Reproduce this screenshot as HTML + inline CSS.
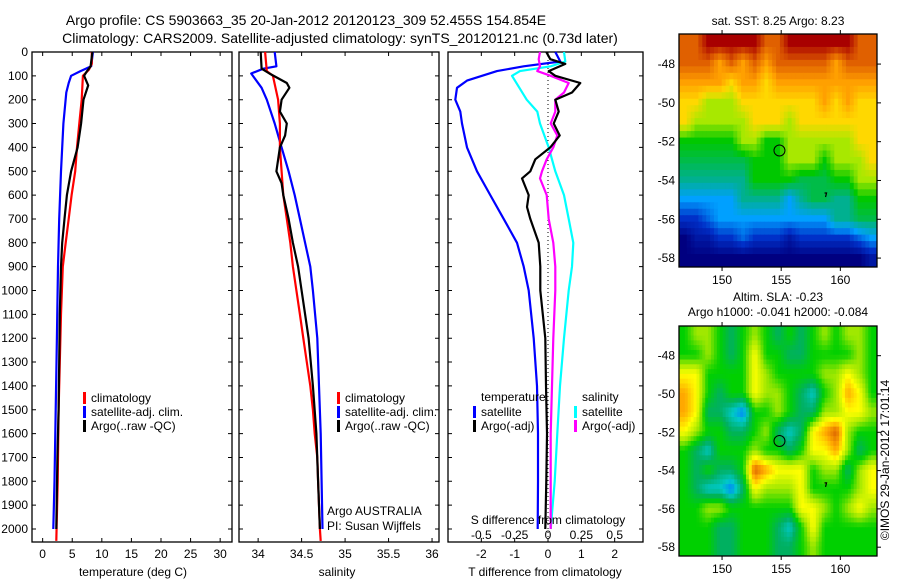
<!DOCTYPE html>
<html><head><meta charset="utf-8"><style>
html,body{margin:0;padding:0;background:#fff;}
svg{display:block;font-family:"Liberation Sans",sans-serif;}
</style></head><body>
<svg id="fig" width="900" height="580" viewBox="0 0 900 580">
<text x="306" y="25" font-size="14" text-anchor="middle">Argo profile: CS 5903663_35 20-Jan-2012 20120123_309 52.455S 154.854E</text>
<text x="340" y="43" font-size="14" text-anchor="middle">Climatology: CARS2009. Satellite-adjusted climatology: synTS_20120121.nc (0.73d later)</text>
<g id="g1"></g>
<g id="g2"></g>
<g id="g3"></g>
<g id="m1"></g>
<g id="m2"></g>
<text transform="translate(889,460) rotate(-90)" font-size="12" text-anchor="middle">©IMOS 29-Jan-2012 17:01:14</text>
</svg>
<script>
// ---- data ----
const depthTicks=[0,100,200,300,400,500,600,700,800,900,1000,1100,1200,1300,1400,1500,1600,1700,1800,1900,2000];
const tTicks=[0,5,10,15,20,25,30];
const sTicks=[34,34.5,35,35.5,36];
const dTTicks=[-2,-1,0,1,2];
const dSTicks=[-0.5,-0.25,0,0.25,0.5];
const dSTickLabels=["-0.5","-0.25","0","0.25","0.5"];
const tClimD=[0,50,75,100,200,300,400,500,600,700,800,900,1100,1300,1500,1800,2050];
const tClimV=[8.3,8.3,7.8,6.8,6.6,6.2,5.8,5.5,4.9,4.4,3.9,3.4,3.1,2.9,2.7,2.55,2.3];
const tSatD=[0,60,80,100,130,170,300,500,700,900,1200,1500,1800,2000];
const tSatV=[8.5,8.2,6.4,4.8,4.4,4.0,3.5,3.1,2.8,2.6,2.4,2.2,2.0,1.8];
const tArgoD=[0,60,80,100,140,200,300,400,500,600,700,800,900,1100,1300,1500,1700,2000];
const tArgoV=[8.4,8.1,7.5,7.0,7.7,6.9,6.5,5.9,4.8,4.1,3.7,3.3,3.1,2.9,2.8,2.7,2.5,2.3];
const sClimD=[0,80,100,200,300,400,500,600,700,800,900,1000,1100,1200,1300,1400,1500,1600,1700,1800,2000,2050];
const sClimV=[34.08,34.1,34.17,34.23,34.25,34.25,34.27,34.29,34.33,34.37,34.4,34.44,34.48,34.52,34.56,34.6,34.63,34.65,34.68,34.69,34.71,34.72];
const sSatD=[0,60,70,90,150,200,300,400,500,600,700,800,900,1000,1200,1400,1600,1800,2000];
const sSatV=[34.19,34.21,34.06,33.92,34.04,34.1,34.19,34.27,34.35,34.42,34.48,34.54,34.6,34.63,34.68,34.7,34.72,34.73,34.74];
const sArgoD=[0,70,90,130,150,200,250,300,350,400,500,550,600,700,800,900,1000,1100,1200,1400,1600,1800,2000];
const sArgoV=[34.03,34.04,34.13,34.33,34.36,34.27,34.25,34.33,34.31,34.25,34.21,34.27,34.29,34.35,34.4,34.46,34.5,34.54,34.58,34.63,34.67,34.69,34.71];
const dTSatD=[0,40,60,80,120,150,200,250,300,400,500,600,700,800,900,1000,1200,1400,1600,1800,2000];
const dTSatV=[0.22,0.37,-0.73,-1.53,-2.43,-2.73,-2.78,-2.63,-2.58,-2.43,-2.13,-1.73,-1.33,-0.93,-0.73,-0.58,-0.43,-0.33,-0.3,-0.3,-0.31];
const dTArgoD=[0,30,50,80,100,130,170,200,250,300,350,400,450,500,530,600,650,700,800,900,1000,1200,1400,1600,1800,2000];
const dTArgoV=[-0.05,0.07,0.52,0.02,0.22,0.97,0.72,0.22,0.32,0.17,0.35,0.07,-0.38,-0.53,-0.78,-0.58,-0.63,-0.53,-0.28,-0.23,-0.23,-0.08,-0.06,-0.03,-0.05,-0.08];
const dSSatD=[0,40,60,80,100,200,250,300,400,500,600,700,800,900,1000,1200,1400,1600,1800,2000];
const dSSatV=[0.12,0.13,0.02,-0.21,-0.27,-0.16,-0.08,-0.06,0.005,0.055,0.12,0.155,0.19,0.18,0.155,0.12,0.09,0.07,0.05,0.02];
const dSArgoD=[0,30,60,80,100,130,170,200,250,300,350,400,450,500,530,600,700,800,900,1000,1200,1400,1600,1800,2000];
const dSArgoV=[-0.06,-0.07,-0.06,-0.08,0.02,0.155,0.12,0.055,0.055,0.02,0.07,0.04,-0.01,-0.045,-0.06,-0.01,0.005,0.04,0.055,0.055,0.04,0.03,0.02,0.02,0.02];
const lonTicks=[150,155,160];
const latTicks=[-48,-50,-52,-54,-56,-58];
const sstGrid=[
[8,8,9,9,9,9,9,8,8,9,9,9,9,9,9,8,8],
[8,8,8,7,8,7,8,7,8,8,8,8,8,7,8,8,8],
[7,7,7,7,6,7,7,6,7,7,7,7,7,7,7,7,7],
[6,6,5,5,5,6,6,6,6,6,6,6,7,6,7,6,6],
[6,5,5,5,5,5,6,6,6,5,6,6,6,6,6,6,6],
[4,4,4,4,4,5,5,4,4,5,5,5,5,5,5,6,6],
[3.5,3.5,3.5,3.5,3.5,3.5,4,4,4,5,5,5,4,5,5,5,6],
[3,3,3,3,3,3,4,4,4,4,3.5,3.5,3.5,4,4,5,5],
[2,2,2,2,2,3,3,3,3,2,3,3.5,3.5,3,3,4,4],
[1,1,1.5,2,2,2,2,2,2,2,2,2,2,3,3,3.5,3.5],
[0,0.5,0.5,1,1,1.5,1,1,1,0.5,1,1,1,1,1,1.5,2],
[0,0,0,0,0,0,0,0,0,0,0,0,0,0,0,0,0.5]];
const slaGrid=[
[3,4,4,3,2,3,4,3,2,3,2,3,4,3,4,4,3],
[3,3,4,3,2,3,5,3,3,2,2,3,3,3,3,4,3],
[5,5,3,3,3,3,5,4,3,3,3,3,4,4,5,4,3],
[6,5,3,2,3,3,5,4,4,3,2,1,3,4,6,5,3],
[6,5,2,2,1,0,3,3,4,3,2,2,4,4,5,5,4],
[5,4,3,3,2,2,3,4,2,1,2,5,6,7,4,3,3],
[3,2,1,3,3,3,4,3,3,2,3,5,5,6,4,2,3],
[3,2,3,2,2,3,7,6,5,5,5,3,4,4,2,4,5],
[3,2,1,1,0,2,5,4,4,4,5,3,3,3,3,4,5],
[3,3,4,4,3,3,3,3,3,3,5,5,4,3,4,5,4],
[3,3,3,2,2,3,3,3,2,1,3,5,3,3,3,3,3],
[3,3,3,2,2,3,3,3,2,2,3,4,3,3,3,3,3]];
const argoLon=154.854, argoLat=-52.455;

// ---- helpers ----
const NS="http://www.w3.org/2000/svg";
function el(parent,tag,attrs,txt){const e=document.createElementNS(NS,tag);for(const k in attrs)e.setAttribute(k,attrs[k]);if(txt!==undefined)e.textContent=txt;parent.appendChild(e);return e;}
const Y0=52, YS=0.2385, PB=542, PT=52;
const yD=d=>Y0+d*YS;
function panel(g,x0,x1,dmin,dmax){
  const sx=v=>x0+(v-dmin)/(dmax-dmin)*(x1-x0);
  const r=el(g,'rect',{x:x0,y:PT,width:x1-x0,height:PB-PT,fill:'none',stroke:'#000','stroke-width':1.3});
  
  
  depthTicks.forEach(d=>{
    const t=el(g,'path',{d:`M${x0} ${yD(d)}h4M${x1} ${yD(d)}h-4`,stroke:'#000','stroke-width':1});
    
    
  });
  return sx;
}
function xticks(g,sx,ticks,labels,ylab){
  ticks.forEach((v,i)=>{
    const t=el(g,'path',{d:`M${sx(v)} ${PT}v4M${sx(v)} ${PB}v-4`,stroke:'#000','stroke-width':1});
    
    
    if(labels){const l=el(g,'text',{x:sx(v),y:ylab,'font-size':12,'text-anchor':'middle'},labels[i]);
    
    }
  });
}
function line(g,sx,D,V,color,name,w){
  const p=el(g,'polyline',{points:D.map((d,i)=>sx(V[i]).toFixed(1)+','+yD(d).toFixed(1)).join(' '),fill:'none',stroke:color,'stroke-width':w||2.2,'stroke-linejoin':'round'});
  
  
}
function legend(g,x,y,color,label,name){
  const m=el(g,'rect',{x:x,y:y-6,width:3,height:12,fill:color});
  
  
  const t=el(g,'text',{x:x+8,y:y+4,'font-size':12},label);
  
  
}

// ---- panel 1 ----
const g1=document.getElementById('g1');
const sx1=panel(g1,32,232,-1.8,32);
depthTicks.forEach(d=>{const l=el(g1,'text',{x:28,y:yD(d)+4,'font-size':12,'text-anchor':'end'},String(d));

});
xticks(g1,sx1,tTicks,tTicks.map(String),558);
line(g1,sx1,tSatD,tSatV,'#0000ff','temp-satellite-line');
line(g1,sx1,tClimD,tClimV,'#ff0000','temp-climatology-line');
line(g1,sx1,tArgoD,tArgoV,'#000','temp-argo-line');
legend(g1,83,398,'#ff0000','climatology','legend-climatology');
legend(g1,83,412,'#0000ff','satellite-adj. clim.','legend-satellite');
legend(g1,83,426,'#000','Argo(..raw -QC)','legend-argo');
el(g1,'text',{x:133,y:576,'font-size':12,'text-anchor':'middle',},'temperature (deg C)');

// ---- panel 2 ----
const g2=document.getElementById('g2');
const sx2=panel(g2,239,439,33.78,36.08);
xticks(g2,sx2,sTicks,["34","34.5","35","35.5","36"],558);
line(g2,sx2,sSatD,sSatV,'#0000ff','sal-satellite-line');
line(g2,sx2,sClimD,sClimV,'#ff0000','sal-climatology-line');
line(g2,sx2,sArgoD,sArgoV,'#000','sal-argo-line');
legend(g2,337,398,'#ff0000','climatology','legend2-climatology');
legend(g2,337,412,'#0000ff','satellite-adj. clim.','legend2-satellite');
legend(g2,337,426,'#000','Argo(..raw -QC)','legend2-argo');
el(g2,'text',{x:327,y:515,'font-size':12,},'Argo AUSTRALIA');
el(g2,'text',{x:327,y:530,'font-size':12,},'PI: Susan Wijffels');
el(g2,'text',{x:337,y:576,'font-size':12,'text-anchor':'middle',},'salinity');

// ---- panel 3 ----
const g3=document.getElementById('g3');
const sx3=panel(g3,448,643,-3.0,2.85);
const sxS=v=>sx3(v*4);
xticks(g3,sx3,dTTicks,dTTicks.map(String),558);
el(g3,'line',{x1:sx3(0),y1:PT,x2:sx3(0),y2:PB,stroke:'#000','stroke-width':1,'stroke-dasharray':'1,3',});
line(g3,sx3,dTSatD,dTSatV,'#0000ff','dT-satellite-line');
line(g3,sxS,dSSatD,dSSatV,'#00ffff','dS-satellite-line');
line(g3,sxS,dSArgoD,dSArgoV,'#ff00ff','dS-argo-line');
line(g3,sx3,dTArgoD,dTArgoV,'#000','dT-argo-line');
el(g3,'text',{x:481,y:401,'font-size':12,},'temperature');
el(g3,'text',{x:582,y:401,'font-size':12,},'salinity');
legend(g3,473,412,'#0000ff','satellite','legend3-t-satellite');
legend(g3,473,426,'#000','Argo(-adj)','legend3-t-argo');
legend(g3,574,412,'#00ffff','satellite','legend3-s-satellite');
legend(g3,574,426,'#ff00ff','Argo(-adj)','legend3-s-argo');
el(g3,'text',{x:548,y:524,'font-size':12,'text-anchor':'middle',},'S difference from climatology');
dSTicks.forEach((v,i)=>{const l=el(g3,'text',{x:sxS(v),y:539,'font-size':12,'text-anchor':'middle'},dSTickLabels[i]);

});
el(g3,'text',{x:545,y:576,'font-size':12,'text-anchor':'middle',},'T difference from climatology');

// ---- maps ----
const sstColors=['#000080','#0030c8','#00a0ff','#00b090','#00c800','#a8e800','#ffd800','#ffa000','#e06000','#a80000'];
const slaColors=['#0080ff','#00c8c8','#00b060','#00d000','#a0e800','#ffff00','#ffa800','#d86000'];
function lerpCol(cols,v){const i=Math.max(0,Math.min(cols.length-1.001,v));const a=Math.floor(i),f=i-a;
 const h=c=>[1,3,5].map(k=>parseInt(c.substr(k,2),16));const A=h(cols[a]),B=h(cols[a+1]);
 return 'rgb('+A.map((x,k)=>Math.round(x+(B[k]-x)*f)).join(',')+')';}
function sample(grid,r,c){ // bilinear between cell centres
  const nr=grid.length,nc=grid[0].length;
  const rr=Math.max(0,Math.min(nr-1,r)),cc=Math.max(0,Math.min(nc-1,c));
  const r0=Math.min(nr-2,Math.floor(rr)),c0=Math.min(nc-2,Math.floor(cc));
  const fr=rr-r0,fc=cc-c0;
  return grid[r0][c0]*(1-fr)*(1-fc)+grid[r0][c0+1]*(1-fr)*fc+grid[r0+1][c0]*fr*(1-fc)+grid[r0+1][c0+1]*fr*fc;
}
function map(g,y0,y1,grid,cols,titles,titleY,sub){
  const x0=679,x1=877,lonMin=146.36,lonMax=163.1;
  const latTop=-46.45,latBot=-58.46;
  const sx=lon=>x0+(lon-lonMin)/(lonMax-lonMin)*(x1-x0);
  const sy=lat=>y0+(latTop-lat)/(latTop-latBot)*(y1-y0);
  const nr=grid.length*sub,nc=grid[0].length*sub,cw=(x1-x0)/nc,ch=(y1-y0)/nr;
  for(let r=0;r<nr;r++)for(let c=0;c<nc;c++){
    const v=sample(grid,(r+0.5)/sub-0.5,(c+0.5)/sub-0.5);
    const cell=el(g,'rect',{x:(x0+c*cw).toFixed(2),y:(y0+r*ch).toFixed(2),width:(cw+0.5).toFixed(2),height:(ch+0.5).toFixed(2),fill:lerpCol(cols,v)});
    
    
  }
  el(g,'rect',{x:x0,y:y0,width:x1-x0,height:y1-y0,fill:'none',stroke:'#000','stroke-width':1.3,});
  lonTicks.forEach(v=>{
    el(g,'path',{d:`M${sx(v)} ${y0}v-4M${sx(v)} ${y1}v4`,stroke:'#000',});
    const l=el(g,'text',{x:sx(v),y:y1+17,'font-size':12,'text-anchor':'middle'},String(v));
    
    
  });
  latTicks.forEach(v=>{
    el(g,'path',{d:`M${x1} ${sy(v)}h4`,stroke:'#000',});
    const l=el(g,'text',{x:x0-4,y:sy(v)+4,'font-size':12,'text-anchor':'end'},String(v));
    
    
  });
  titles.forEach((t,i)=>{const l=el(g,'text',{x:778,y:titleY+i*15,'font-size':12,'text-anchor':'middle'},t);
  
  });
  el(g,'circle',{cx:sx(argoLon),cy:sy(argoLat),r:5.5,fill:'none',stroke:'#000','stroke-width':1,});
  el(g,'path',{d:`M${sx(158.75)} ${sy(-54.85)}l1 -4h-2`,stroke:'#000','stroke-width':1.2,fill:'none',});
}
map(document.getElementById('m1'),34,267,sstGrid,sstColors,['sat. SST: 8.25 Argo: 8.23'],25,3);
map(document.getElementById('m2'),326,556,slaGrid,slaColors,['Altim. SLA: -0.23','Argo h1000: -0.041 h2000: -0.084'],301,4);
</script>
</body></html>
